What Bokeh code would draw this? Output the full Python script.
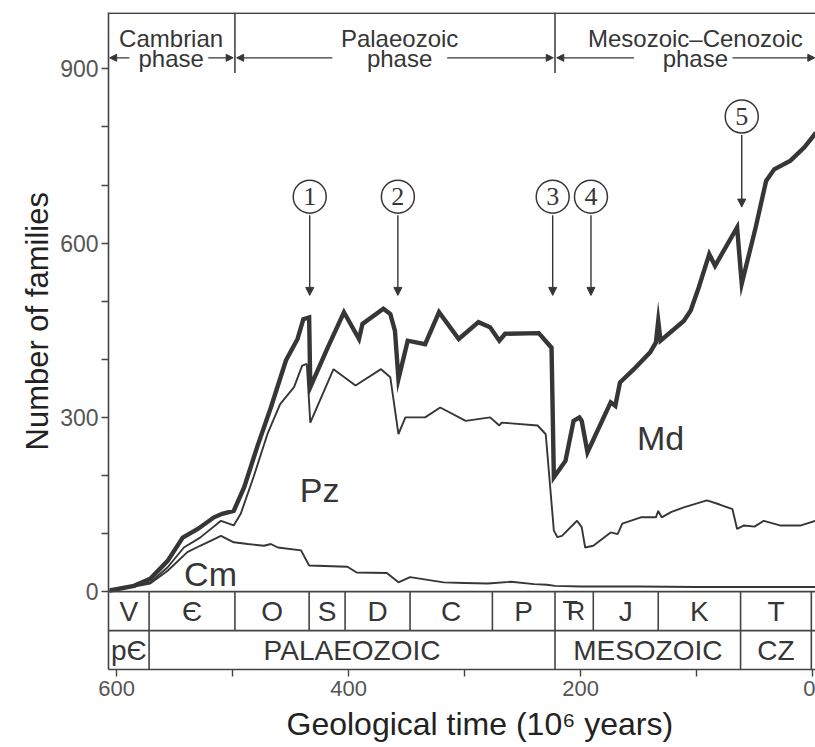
from bokeh.plotting import figure
from bokeh.models import Range1d, FixedTicker, Span, Arrow, NormalHead, Title
from bokeh.core.properties import value
from bokeh.embed import file_html
from bokeh.resources import INLINE

# ---------------- data ----------------
total_t = [606, 585, 571, 556, 543, 530, 516, 509, 499, 490, 479, 467, 454, 444, 439, 434, 433, 418, 404, 391,
           388, 370, 364, 360, 357, 349, 334, 322, 305, 288, 278, 270, 265, 236, 225, 223, 213, 206, 201, 199,
           194, 174, 170, 166, 154, 140, 135, 133, 131, 111, 105, 98, 89, 84, 65, 61, 49, 40, 33, 19, 7, -3]
total_y = [2, 10, 22, 53, 93, 108, 128, 134, 139, 180, 248, 317, 398, 435, 469, 472, 352, 420, 481, 435,
           461, 487, 478, 449, 366, 432, 426, 481, 435, 464, 455, 432, 444, 445, 420, 197, 225, 294, 300, 294,
           240, 326, 320, 360, 383, 412, 429, 466, 432, 466, 484, 524, 581, 561, 627, 530, 627, 707, 727, 742, 765, 790]

mid_t = [606, 571, 556, 542, 528, 510, 499, 493, 482, 470, 459, 447, 440, 436, 433, 413, 394, 372, 364, 357,
         351, 334, 321, 299, 278, 270, 268, 237, 230, 223, 220, 216, 203, 199, 196, 189, 174, 168, 164, 148,
         135, 133, 130, 122, 111, 91, 80, 69, 65, 59, 50, 42, 28, 10, -3]
mid_y = [1, 16, 42, 76, 93, 122, 114, 134, 197, 271, 323, 352, 389, 392, 291, 383, 355, 383, 369, 271,
         300, 300, 317, 294, 300, 286, 291, 286, 271, 105, 94, 96, 122, 111, 76, 79, 102, 99, 117, 128,
         128, 139, 128, 137, 145, 157, 150, 142, 108, 114, 112, 122, 114, 114, 122]

cm_t = [606, 571, 556, 539, 528, 510, 499, 487, 473, 467, 461, 441, 434, 401, 393, 367, 357, 347, 318, 300,
        280, 260, 240, 229, 222, 200, 150, 100, 50, -3]
cm_y = [1, 14, 36, 68, 79, 96, 85, 82, 79, 82, 76, 71, 45, 43, 33, 32, 16, 25, 16, 15,
        14, 17, 13, 12, 10, 9, 9, 8, 8, 8]

fauna_labels = ["Cm", "Pz", "Md"]
fauna_t = [519, 425, 131]
fauna_y = [31, 175, 265]

period_names = ["V", "Є", "O", "S", "D", "C", "P", "", "J", "K", "T"]
period_edges = [607, 572, 498, 434, 403, 347, 276, 222, 189, 133, 62, 1]
era_names = ["pЄ", "PALAEOZOIC", "MESOZOIC", "CZ"]
era_edges = [607, 572, 222, 62, 1]

phase_names = ["Cambrian", "Palaeozoic", "Mesozoic–Cenozoic"]
phase_t = [553, 356, 101]
phase_dividers = [498, 222]
phase_arrow_from = [589, 521, 414, 315, 154, 69]
phase_arrow_to = [606, 499.5, 496.5, 223.5, 220.5, -2]

event_labels = ["1", "2", "3", "4", "5"]
event_t = [433.5, 357.5, 224, 191, 61]
event_circle_y = [680, 680, 680, 680, 818]
event_arrow_top = [648, 648, 648, 648, 786]
event_arrow_tip = [510, 510, 510, 510, 662]

x_major = [600, 400, 200, 0]
x_minor = [500, 300, 100]
y_major = [0, 300, 600, 900]
y_minor = [100, 200, 400, 500, 700, 800]

# ---------------- styling ----------------
FONT = "Liberation Sans"
INK = "#363636"
LINE = "#444444"
GRAY = "#555555"
ROW1_BOTTOM = -67
ROW2_BOTTOM = -134
TOP = 997

p = figure(width=815, height=747, x_range=Range1d(607, -2.6), y_range=Range1d(ROW2_BOTTOM, TOP),
           output_backend="svg", toolbar_location=None,
           min_border_left=108, min_border_right=0, min_border_top=12, min_border_bottom=78,
           outline_line_color=None, background_fill_color="white", border_fill_color="white")
p.xgrid.visible = False
p.ygrid.visible = False

for ax, maj, mnr, fs in ((p.xaxis, x_major, x_minor, "22px"), (p.yaxis, y_major, y_minor, "23px")):
    ax.ticker = FixedTicker(ticks=maj, minor_ticks=mnr)
    ax.major_label_text_font = FONT
    ax.major_label_text_font_size = fs
    ax.major_label_text_color = GRAY
    ax.axis_line_color = LINE
    ax.axis_line_width = 1.6
    ax.major_tick_line_color = LINE
    ax.minor_tick_line_color = LINE
    ax.major_tick_line_width = 1.4
    ax.minor_tick_line_width = 1.4
    ax.major_tick_in = 0
    ax.minor_tick_in = 0
    ax.major_tick_out = 7
    ax.minor_tick_out = 7
p.xaxis.major_label_standoff = 4
p.yaxis.major_label_standoff = 3

# axis titles
p.add_layout(Title(text="Geological time (10⁶ years)", align="left", offset=178, standoff=10,
                   text_font=FONT, text_font_size="32px", text_font_style="normal",
                   text_color="#222222"), "below")
p.add_layout(Title(text="Number of families", align="left", offset=219, standoff=6,
                   text_font=FONT, text_font_size="31px", text_font_style="normal",
                   text_color="#222222"), "left")

# frame top and box rows
for loc in (TOP - 1, 0, ROW1_BOTTOM):
    p.add_layout(Span(location=loc, dimension="width", line_color=LINE, line_width=1.6))

p.segment(x0=period_edges[1:], y0=[0] * (len(period_edges) - 1), x1=period_edges[1:],
          y1=[ROW1_BOTTOM] * (len(period_edges) - 1), line_color=LINE, line_width=1.6)
p.segment(x0=era_edges[1:], y0=[ROW1_BOTTOM] * (len(era_edges) - 1), x1=era_edges[1:],
          y1=[ROW2_BOTTOM] * (len(era_edges) - 1), line_color=LINE, line_width=1.6)

period_mid = [(a + b) / 2 for a, b in zip(period_edges[:-1], period_edges[1:])]
era_mid = [(a + b) / 2 for a, b in zip(era_edges[:-1], era_edges[1:])]
p.text(x=period_mid, y=[ROW1_BOTTOM / 2] * len(period_mid), text=period_names,
       text_align="center", text_baseline="middle", text_font=value(FONT),
       text_font_size="28px", text_color=INK)
# Triassic symbol: T bar over R
tr_x = period_mid[7]
p.text(x=[tr_x], y=[ROW1_BOTTOM / 2], text=["R"], text_align="center", text_baseline="middle",
       text_font=value(FONT), text_font_size="25px", text_color=INK, x_offset=2)
p.text(x=[tr_x], y=[ROW1_BOTTOM / 2], text=["T"], text_align="center", text_baseline="middle",
       text_font=value(FONT), text_font_size="25px", text_color=INK, x_offset=-4, y_offset=-1)
p.text(x=era_mid, y=[(ROW1_BOTTOM + ROW2_BOTTOM) / 2] * len(era_mid), text=era_names,
       text_align="center", text_baseline="middle", text_font=value(FONT),
       text_font_size="28px", text_color=INK)

# curves
p.line(cm_t, cm_y, line_color=INK, line_width=1.9)
p.line(mid_t, mid_y, line_color=INK, line_width=1.9)
p.line(total_t, total_y, line_color=INK, line_width=4.4, line_join="miter")

p.text(x=fauna_t, y=fauna_y, text=fauna_labels, text_align="center", text_baseline="middle",
       text_font=value(FONT), text_font_size="34px", text_color=INK)

# phases
p.segment(x0=phase_dividers, y0=[TOP] * 2, x1=phase_dividers, y1=[893] * 2,
          line_color=LINE, line_width=1.6)
p.text(x=phase_t, y=[953] * 3, text=phase_names, text_align="center", text_baseline="middle",
       text_font=value(FONT), text_font_size="24px", text_color=INK)
p.text(x=phase_t, y=[917] * 3, text=["phase"] * 3, text_align="center", text_baseline="middle",
       text_font=value(FONT), text_font_size="24px", text_color=INK)
for a, b in zip(phase_arrow_from, phase_arrow_to):
    p.add_layout(Arrow(x_start=a, y_start=919, x_end=b, y_end=919, line_color=INK, line_width=1.3,
                       end=NormalHead(size=7, fill_color=INK, line_color=INK, line_width=1)))

# extinction events
for t, top, tip in zip(event_t, event_arrow_top, event_arrow_tip):
    p.add_layout(Arrow(x_start=t, y_start=top, x_end=t, y_end=tip, line_color=INK, line_width=1.4,
                       end=NormalHead(size=8, fill_color=INK, line_color=INK, line_width=1)))
p.scatter(x=event_t, y=event_circle_y, marker="circle", size=33, fill_color="white",
          line_color=INK, line_width=1.5)
p.text(x=event_t, y=event_circle_y, text=event_labels, text_align="center", text_baseline="middle",
       text_font=value("Liberation Serif"), text_font_size="26px", text_color=INK)

open("out.html", "w").write(file_html(p, INLINE))
